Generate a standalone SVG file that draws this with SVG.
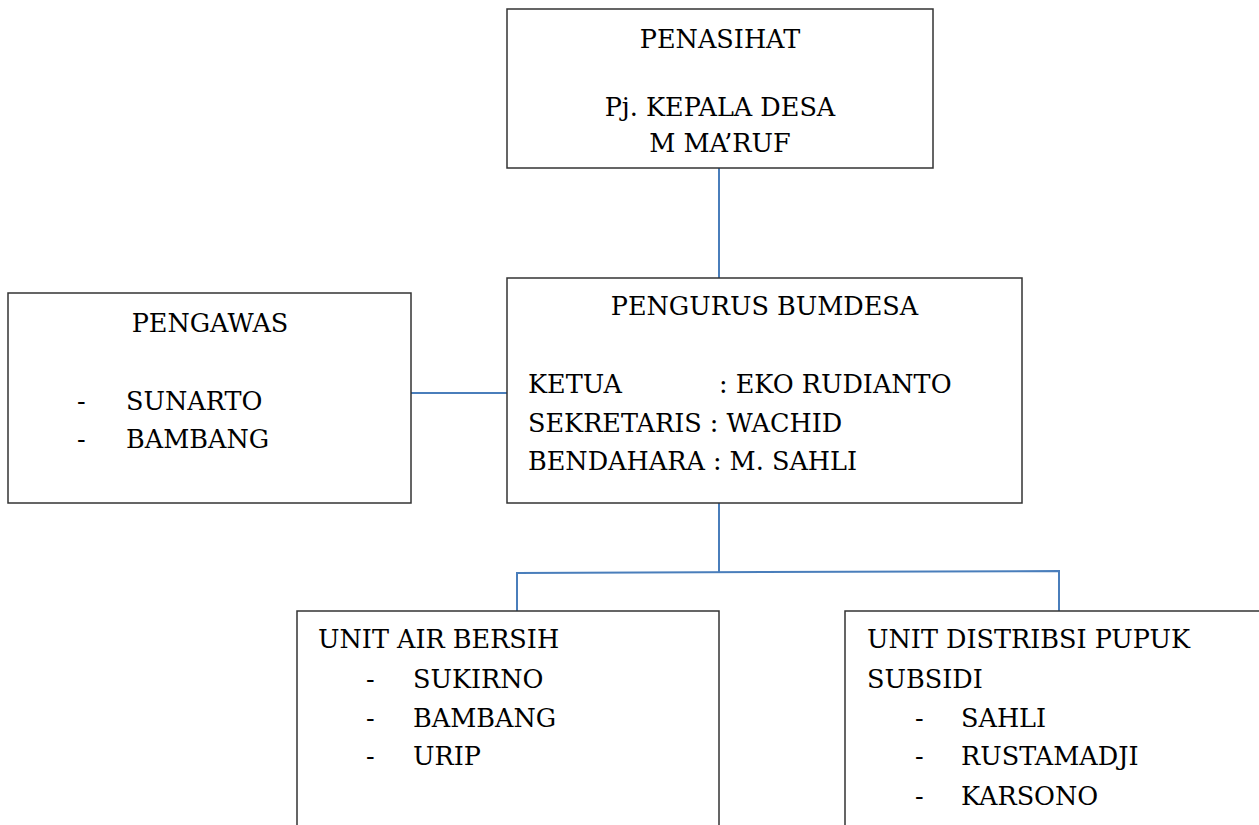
<svg xmlns="http://www.w3.org/2000/svg" width="1259" height="825" viewBox="0 0 1259 825">
<style>
.box{fill:#fff;stroke:#333;stroke-width:1.5}
text{font-family:'DejaVu Serif','Liberation Serif',serif;font-size:25.5px;fill:#000}
.c{text-anchor:middle}
.conn{stroke:#4a7ebb;stroke-width:2;fill:none}
</style>
<rect width="1259" height="825" fill="#fff"/>
<g id="connectors">
<line class="conn" x1="719" y1="168" x2="719" y2="278"/>
<line class="conn" x1="411" y1="393" x2="517" y2="393"/>
<line class="conn" x1="719" y1="503" x2="719" y2="572"/>
<polyline class="conn" points="517,611 517,573 1059,571 1059,611"/>
</g>
<g id="penasihat">
<rect class="box" x="507" y="9" width="426" height="159"/>
<text class="c" x="720" y="48">PENASIHAT</text>
<text class="c" x="720" y="116">Pj. KEPALA DESA</text>
<text class="c" x="720" y="152">M MA’RUF</text>
</g>
<g id="pengawas">
<rect class="box" x="8" y="293" width="403" height="210"/>
<text class="c" x="210" y="332">PENGAWAS</text>
<text x="77" y="410">-</text>
<text x="126" y="410">SUNARTO</text>
<text x="77" y="448">-</text>
<text x="126" y="448">BAMBANG</text>
</g>
<g id="pengurus">
<rect class="box" x="507" y="278" width="515" height="225"/>
<text class="c" x="764.5" y="315">PENGURUS BUMDESA</text>
<text x="528" y="393">KETUA</text>
<text x="719" y="393">: EKO RUDIANTO</text>
<text x="528" y="432">SEKRETARIS : WACHID</text>
<text x="528" y="470">BENDAHARA : M. SAHLI</text>
</g>
<g id="unit-air">
<rect class="box" x="297" y="611" width="422" height="230"/>
<text x="318" y="648">UNIT AIR BERSIH</text>
<text x="366" y="688">-</text>
<text x="413" y="688">SUKIRNO</text>
<text x="366" y="727">-</text>
<text x="413" y="727">BAMBANG</text>
<text x="366" y="765">-</text>
<text x="413" y="765">URIP</text>
</g>
<g id="unit-pupuk">
<rect class="box" x="845" y="611" width="430" height="230"/>
<text x="867" y="648">UNIT DISTRIBSI PUPUK</text>
<text x="867" y="688">SUBSIDI</text>
<text x="915" y="727">-</text>
<text x="961" y="727">SAHLI</text>
<text x="915" y="765">-</text>
<text x="961" y="765">RUSTAMADJI</text>
<text x="915" y="805">-</text>
<text x="961" y="805">KARSONO</text>
</g>
</svg>
